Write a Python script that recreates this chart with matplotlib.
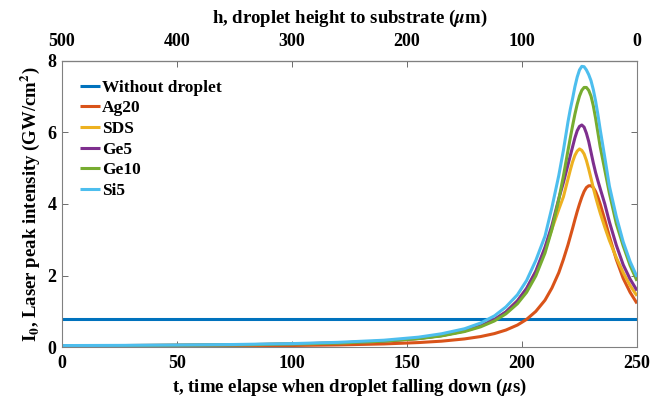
import matplotlib
matplotlib.use("Agg")
import matplotlib.pyplot as plt

plt.rcParams['font.family'] = ['Liberation Serif', 'DejaVu Serif']
plt.rcParams['font.weight'] = 'bold'
plt.rcParams['mathtext.fontset'] = 'stix'

# ---- data ----
t = [0, 25, 50, 75, 100, 120, 140, 155, 165, 175, 182, 188, 193, 198, 202, 206,
     210, 213, 216, 218, 220, 221, 222, 223, 224, 225, 226, 227, 228, 229, 230,
     231, 232, 233, 234, 236, 238, 241, 244, 247, 250]

t_without = [0, 250]
i_without = [0.77, 0.77]

i_ag20 = [0.015, 0.018, 0.022, 0.03, 0.042, 0.058, 0.086, 0.124, 0.163, 0.226, 0.292, 0.375,
          0.474, 0.614, 0.773, 0.996, 1.31, 1.65, 2.08, 2.45, 2.86, 3.09, 3.32, 3.56, 3.79,
          4.0, 4.19, 4.35, 4.46, 4.51, 4.51, 4.46, 4.35, 4.19, 4.0, 3.56, 3.09, 2.45, 1.92,
          1.53, 1.22]
i_sds = [0.03, 0.035, 0.045, 0.058, 0.08, 0.11, 0.163, 0.238, 0.318, 0.448, 0.589, 0.767,
         0.98, 1.29, 1.63, 2.11, 2.72, 3.3, 3.85, 4.2, 4.7, 4.95, 5.18, 5.36, 5.48,
         5.54, 5.5, 5.4, 5.22, 4.98, 4.72, 4.45, 4.2, 3.97, 3.75, 3.35, 2.98, 2.5, 2.08,
         1.72, 1.43]
i_ge5 = [0.03, 0.04, 0.05, 0.06, 0.085, 0.115, 0.166, 0.24, 0.32, 0.45, 0.59, 0.77,
         0.98, 1.29, 1.64, 2.12, 2.79, 3.4, 4.15, 4.6, 5.1, 5.35, 5.6, 5.85, 6.05,
         6.17, 6.21, 6.15, 5.98, 5.75, 5.45, 5.15, 4.88, 4.65, 4.43, 4.0, 3.5, 2.85, 2.3,
         1.9, 1.58]
i_ge10 = [0.03, 0.04, 0.05, 0.06, 0.085, 0.11, 0.165, 0.233, 0.31, 0.432, 0.564, 0.729,
          0.927, 1.21, 1.53, 1.99, 2.63, 3.29, 4.13, 4.78, 5.5, 5.85, 6.19, 6.51, 6.79,
          7.02, 7.18, 7.26, 7.26, 7.18, 7.02, 6.75, 6.4, 6.0, 5.6, 4.95, 4.3, 3.45, 2.83,
          2.28, 1.85]
i_si5 = [0.04, 0.045, 0.055, 0.07, 0.095, 0.13, 0.19, 0.275, 0.37, 0.51, 0.67, 0.87,
         1.12, 1.46, 1.86, 2.42, 3.1, 3.9, 4.8, 5.5, 6.3, 6.65, 6.95, 7.28, 7.55,
         7.75, 7.85, 7.84, 7.75, 7.62, 7.45, 7.2, 6.88, 6.5, 6.08, 5.3, 4.5, 3.65, 2.94,
         2.39, 1.96]

labels = ['Without droplet', 'Ag20', 'SDS', 'Ge5', 'Ge10', 'Si5']
colors = ['#0072BD', '#D95319', '#EDB120', '#7E2F8E', '#77AC30', '#4DBEEE']

x_ticks = [0, 50, 100, 150, 200, 250]
y_ticks = [0, 2, 4, 6, 8]
h_ticks = [500, 400, 300, 200, 100, 0]

# ---- figure ----
fig = plt.figure(figsize=(6.62, 3.97), dpi=100)
ax = fig.add_axes([62 / 662, 50 / 397, 575 / 662, 286 / 397])

series = [(t_without, i_without), (t, i_ag20), (t, i_sds), (t, i_ge5), (t, i_ge10), (t, i_si5)]
for (xs, ys), lab, col in zip(series, labels, colors):
    ax.plot(xs, ys, color=col, lw=2.2, label=lab, solid_capstyle='butt')

ax.set_xlim(0, 250)
ax.set_ylim(0, 8)
ax.set_xticks(x_ticks)
ax.set_yticks(y_ticks)
fs_tick = 13
fs_lab = 13.5
ax.tick_params(axis='x', direction='in', length=4, width=0.6, color='#555555',
               labelsize=fs_tick, top=False, pad=6)
ax.tick_params(axis='y', direction='in', length=4, width=0.6, color='#555555',
               labelsize=fs_tick, right=True, pad=4)
for lbl in ax.get_xticklabels() + ax.get_yticklabels():
    lbl.set_fontweight('bold')
for sp in ax.spines.values():
    sp.set_color('#808080')
    sp.set_linewidth(0.8)

ax.set_xlabel(r't, time elapse when droplet falling down ($\mu$s)', fontsize=fs_lab,
              fontweight='bold', labelpad=3)
ax.set_ylabel(r'I$_\mathbf{0}$, Laser peak intensity (GW/cm$^\mathbf{2}$)', fontsize=fs_lab,
              fontweight='bold', labelpad=4)

sec = ax.secondary_xaxis('top', functions=(lambda x: 500 - 2 * x, lambda h: (500 - h) / 2))
sec.set_xticks(h_ticks)
sec.tick_params(direction='in', length=4, width=0.6, color='#555555', labelsize=fs_tick, pad=8)
for lbl in sec.get_xticklabels():
    lbl.set_fontweight('bold')
sec.set_xlabel(r'h, droplet height to substrate ($\mu$m)', fontsize=fs_lab, fontweight='bold',
               labelpad=7)

leg = ax.legend(loc='upper left', bbox_to_anchor=(0.031, 0.935), frameon=False,
                borderaxespad=0, borderpad=0, handlelength=1.15, handletextpad=0.12,
                labelspacing=0.26, prop={'weight': 'bold', 'size': 12.5})

fig.savefig('out.png', dpi=100)
